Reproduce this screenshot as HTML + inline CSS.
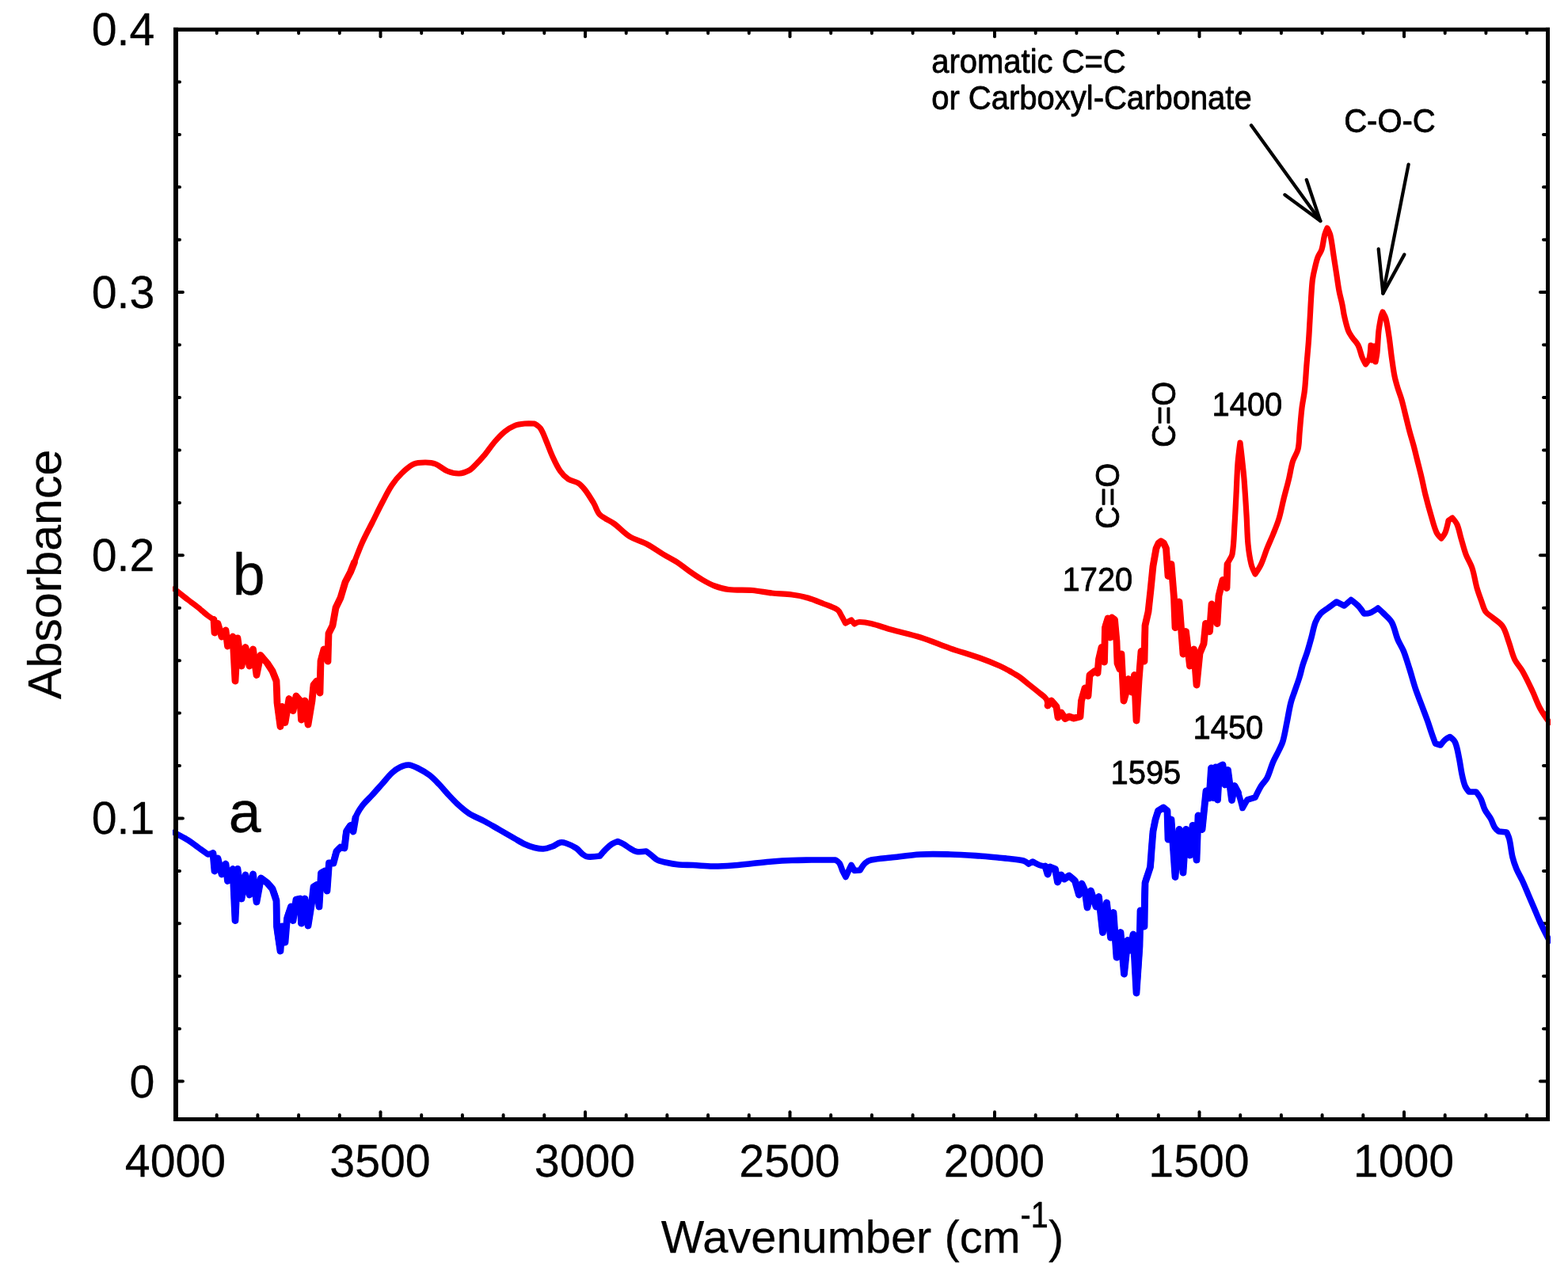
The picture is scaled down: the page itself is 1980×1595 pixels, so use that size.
<!DOCTYPE html>
<html lang="en"><head><meta charset="utf-8"><title>FTIR absorbance spectra</title>
<style>html,body{margin:0;padding:0;background:#fff;}body{width:1980px;height:1595px;}svg{display:block;}text{font-family:'Liberation Sans', Arial, Helvetica, sans-serif;fill:#000;stroke:#000;stroke-linejoin:round;}</style>
</head><body>
<svg width="1980" height="1595" viewBox="0 0 1980 1595" role="img" aria-label="FTIR absorbance spectra of samples a and b">
<rect x="0" y="0" width="1980" height="1595" fill="#fff"/>
<defs><clipPath id="plotclip"><rect x="218" y="36" width="1740" height="1378"/></clipPath></defs>
<g stroke="#000" stroke-linecap="round" stroke-width="4.0"><line x1="273.7" y1="1412.0" x2="273.7" y2="1408.0"/><line x1="273.7" y1="38.0" x2="273.7" y2="42.0"/><line x1="325.4" y1="1412.0" x2="325.4" y2="1408.0"/><line x1="325.4" y1="38.0" x2="325.4" y2="42.0"/><line x1="377.1" y1="1412.0" x2="377.1" y2="1408.0"/><line x1="377.1" y1="38.0" x2="377.1" y2="42.0"/><line x1="428.8" y1="1412.0" x2="428.8" y2="1408.0"/><line x1="428.8" y1="38.0" x2="428.8" y2="42.0"/><line x1="480.5" y1="1412.0" x2="480.5" y2="1404.2"/><line x1="480.5" y1="38.0" x2="480.5" y2="46.2"/><line x1="532.2" y1="1412.0" x2="532.2" y2="1408.0"/><line x1="532.2" y1="38.0" x2="532.2" y2="42.0"/><line x1="583.9" y1="1412.0" x2="583.9" y2="1408.0"/><line x1="583.9" y1="38.0" x2="583.9" y2="42.0"/><line x1="635.6" y1="1412.0" x2="635.6" y2="1408.0"/><line x1="635.6" y1="38.0" x2="635.6" y2="42.0"/><line x1="687.3" y1="1412.0" x2="687.3" y2="1408.0"/><line x1="687.3" y1="38.0" x2="687.3" y2="42.0"/><line x1="739.0" y1="1412.0" x2="739.0" y2="1404.2"/><line x1="739.0" y1="38.0" x2="739.0" y2="46.2"/><line x1="790.7" y1="1412.0" x2="790.7" y2="1408.0"/><line x1="790.7" y1="38.0" x2="790.7" y2="42.0"/><line x1="842.4" y1="1412.0" x2="842.4" y2="1408.0"/><line x1="842.4" y1="38.0" x2="842.4" y2="42.0"/><line x1="894.1" y1="1412.0" x2="894.1" y2="1408.0"/><line x1="894.1" y1="38.0" x2="894.1" y2="42.0"/><line x1="945.8" y1="1412.0" x2="945.8" y2="1408.0"/><line x1="945.8" y1="38.0" x2="945.8" y2="42.0"/><line x1="997.5" y1="1412.0" x2="997.5" y2="1404.2"/><line x1="997.5" y1="38.0" x2="997.5" y2="46.2"/><line x1="1049.2" y1="1412.0" x2="1049.2" y2="1408.0"/><line x1="1049.2" y1="38.0" x2="1049.2" y2="42.0"/><line x1="1100.9" y1="1412.0" x2="1100.9" y2="1408.0"/><line x1="1100.9" y1="38.0" x2="1100.9" y2="42.0"/><line x1="1152.6" y1="1412.0" x2="1152.6" y2="1408.0"/><line x1="1152.6" y1="38.0" x2="1152.6" y2="42.0"/><line x1="1204.3" y1="1412.0" x2="1204.3" y2="1408.0"/><line x1="1204.3" y1="38.0" x2="1204.3" y2="42.0"/><line x1="1256.0" y1="1412.0" x2="1256.0" y2="1404.2"/><line x1="1256.0" y1="38.0" x2="1256.0" y2="46.2"/><line x1="1307.7" y1="1412.0" x2="1307.7" y2="1408.0"/><line x1="1307.7" y1="38.0" x2="1307.7" y2="42.0"/><line x1="1359.4" y1="1412.0" x2="1359.4" y2="1408.0"/><line x1="1359.4" y1="38.0" x2="1359.4" y2="42.0"/><line x1="1411.1" y1="1412.0" x2="1411.1" y2="1408.0"/><line x1="1411.1" y1="38.0" x2="1411.1" y2="42.0"/><line x1="1462.8" y1="1412.0" x2="1462.8" y2="1408.0"/><line x1="1462.8" y1="38.0" x2="1462.8" y2="42.0"/><line x1="1514.5" y1="1412.0" x2="1514.5" y2="1404.2"/><line x1="1514.5" y1="38.0" x2="1514.5" y2="46.2"/><line x1="1566.2" y1="1412.0" x2="1566.2" y2="1408.0"/><line x1="1566.2" y1="38.0" x2="1566.2" y2="42.0"/><line x1="1617.9" y1="1412.0" x2="1617.9" y2="1408.0"/><line x1="1617.9" y1="38.0" x2="1617.9" y2="42.0"/><line x1="1669.6" y1="1412.0" x2="1669.6" y2="1408.0"/><line x1="1669.6" y1="38.0" x2="1669.6" y2="42.0"/><line x1="1721.3" y1="1412.0" x2="1721.3" y2="1408.0"/><line x1="1721.3" y1="38.0" x2="1721.3" y2="42.0"/><line x1="1773.0" y1="1412.0" x2="1773.0" y2="1404.2"/><line x1="1773.0" y1="38.0" x2="1773.0" y2="46.2"/><line x1="1824.7" y1="1412.0" x2="1824.7" y2="1408.0"/><line x1="1824.7" y1="38.0" x2="1824.7" y2="42.0"/><line x1="1876.4" y1="1412.0" x2="1876.4" y2="1408.0"/><line x1="1876.4" y1="38.0" x2="1876.4" y2="42.0"/><line x1="1928.1" y1="1412.0" x2="1928.1" y2="1408.0"/><line x1="1928.1" y1="38.0" x2="1928.1" y2="42.0"/><line x1="223.0" y1="103.4" x2="227.0" y2="103.4"/><line x1="1954.0" y1="103.4" x2="1949.0" y2="103.4"/><line x1="223.0" y1="169.9" x2="227.0" y2="169.9"/><line x1="1954.0" y1="169.9" x2="1949.0" y2="169.9"/><line x1="223.0" y1="236.3" x2="227.0" y2="236.3"/><line x1="1954.0" y1="236.3" x2="1949.0" y2="236.3"/><line x1="223.0" y1="302.7" x2="227.0" y2="302.7"/><line x1="1954.0" y1="302.7" x2="1949.0" y2="302.7"/><line x1="223.0" y1="369.1" x2="230.9" y2="369.1"/><line x1="1954.0" y1="369.1" x2="1944.9" y2="369.1"/><line x1="223.0" y1="435.6" x2="227.0" y2="435.6"/><line x1="1954.0" y1="435.6" x2="1949.0" y2="435.6"/><line x1="223.0" y1="502.0" x2="227.0" y2="502.0"/><line x1="1954.0" y1="502.0" x2="1949.0" y2="502.0"/><line x1="223.0" y1="568.4" x2="227.0" y2="568.4"/><line x1="1954.0" y1="568.4" x2="1949.0" y2="568.4"/><line x1="223.0" y1="634.9" x2="227.0" y2="634.9"/><line x1="1954.0" y1="634.9" x2="1949.0" y2="634.9"/><line x1="223.0" y1="701.3" x2="230.9" y2="701.3"/><line x1="1954.0" y1="701.3" x2="1944.9" y2="701.3"/><line x1="223.0" y1="767.7" x2="227.0" y2="767.7"/><line x1="1954.0" y1="767.7" x2="1949.0" y2="767.7"/><line x1="223.0" y1="834.2" x2="227.0" y2="834.2"/><line x1="1954.0" y1="834.2" x2="1949.0" y2="834.2"/><line x1="223.0" y1="900.6" x2="227.0" y2="900.6"/><line x1="1954.0" y1="900.6" x2="1949.0" y2="900.6"/><line x1="223.0" y1="967.0" x2="227.0" y2="967.0"/><line x1="1954.0" y1="967.0" x2="1949.0" y2="967.0"/><line x1="223.0" y1="1033.4" x2="230.9" y2="1033.4"/><line x1="1954.0" y1="1033.4" x2="1944.9" y2="1033.4"/><line x1="223.0" y1="1099.9" x2="227.0" y2="1099.9"/><line x1="1954.0" y1="1099.9" x2="1949.0" y2="1099.9"/><line x1="223.0" y1="1166.3" x2="227.0" y2="1166.3"/><line x1="1954.0" y1="1166.3" x2="1949.0" y2="1166.3"/><line x1="223.0" y1="1232.7" x2="227.0" y2="1232.7"/><line x1="1954.0" y1="1232.7" x2="1949.0" y2="1232.7"/><line x1="223.0" y1="1299.2" x2="227.0" y2="1299.2"/><line x1="1954.0" y1="1299.2" x2="1949.0" y2="1299.2"/><line x1="223.0" y1="1365.6" x2="230.9" y2="1365.6"/><line x1="1954.0" y1="1365.6" x2="1944.9" y2="1365.6"/></g>
<g clip-path="url(#plotclip)" fill="none" stroke-linejoin="round" stroke-linecap="round">
<polyline points="269.0,1077.5 271.0,1100.0 275.0,1084.0 280.0,1104.0 285.0,1091.0 287.5,1112.5 294.0,1097.5 297.0,1162.5 300.0,1097.5 305.0,1135.0 310.0,1105.0 315.0,1130.0 319.5,1104.0 324.0,1139.0 329.5,1109.0 337.5,1115.0 344.0,1122.5 349.0,1137.5 349.5,1170.0 354.0,1201.0 356.0,1170.0 360.0,1190.0 362.5,1160.0 367.5,1145.0 370.0,1162.5 374.0,1136.0 379.0,1135.0 380.5,1166.0 385.0,1135.0 389.0,1169.0 394.0,1137.5 396.0,1120.0 400.0,1117.5 403.0,1145.0 405.5,1102.5 410.0,1100.0 413.0,1125.0 415.5,1090.0 421.0,1090.0 425.0,1075.0 430.0,1070.0 435.0,1071.0 437.5,1050.0 442.5,1042.5 446.0,1050.0 449.0,1032.5" stroke="#0000ff" stroke-width="8.8"/>
<polyline points="1320.0,1094.0 1323.0,1104.0 1326.0,1095.0 1332.5,1097.5 1335.5,1114.0 1340.0,1105.0 1344.0,1110.0 1350.0,1106.0 1357.5,1112.5 1362.5,1130.0 1366.0,1116.0 1370.0,1125.0 1373.0,1146.0 1377.5,1125.0 1384.0,1145.0 1387.5,1132.5 1392.5,1177.5 1397.5,1140.0 1402.5,1184.0 1406.0,1152.5 1410.0,1209.0 1415.0,1177.5 1419.5,1230.0 1424.0,1187.5 1427.5,1200.0 1431.0,1180.0 1435.0,1254.0 1439.0,1195.0 1440.0,1150.0 1445.0,1170.0 1446.0,1115.0 1452.5,1095.0 1454.0,1075.0 1456.0,1050.0 1459.0,1035.0 1462.5,1024.0 1469.0,1020.0 1474.0,1024.0 1475.0,1060.0 1479.0,1035.0 1484.0,1107.5 1489.0,1047.5 1494.0,1102.0 1497.5,1047.5 1502.5,1080.0 1506.0,1042.5 1511.0,1086.0 1513.0,1030.0 1518.0,1047.5 1520.5,1023.0 1523.0,999.0 1527.0,1008.0 1529.5,970.0 1532.0,1007.5 1535.0,969.0 1537.5,1010.0 1540.0,968.0 1544.0,966.0 1547.0,991.0 1550.5,972.5 1555.5,1010.5 1559.0,992.5 1563.5,1001.0" stroke="#0000ff" stroke-width="8.8"/>
<path d="M220.0 1051.3C220.0 1051.3 221.3 1052.1 222.0 1052.5C227.2 1055.4 232.5 1057.9 237.5 1061.0C241.9 1063.7 245.8 1067.0 250.0 1070.0C254.2 1073.0 262.5 1079.0 262.5 1079.0L269.0 1077.5L271.0 1100.0L275.0 1084.0L280.0 1104.0L285.0 1091.0L287.5 1112.5L294.0 1097.5L297.0 1162.5L300.0 1097.5L305.0 1135.0L310.0 1105.0L315.0 1130.0L319.5 1104.0L324.0 1139.0L329.5 1109.0C329.5 1109.0 335.1 1112.7 337.5 1115.0C339.9 1117.3 342.5 1119.6 344.0 1122.5C346.4 1127.2 348.4 1132.3 349.0 1137.5C350.2 1148.3 348.6 1159.2 349.5 1170.0C350.3 1180.4 354.0 1201.0 354.0 1201.0L356.0 1170.0L360.0 1190.0C360.0 1190.0 360.9 1169.9 362.5 1160.0C363.4 1154.8 367.5 1145.0 367.5 1145.0L370.0 1162.5L374.0 1136.0L379.0 1135.0L380.5 1166.0L385.0 1135.0L389.0 1169.0C389.0 1169.0 392.5 1148.0 394.0 1137.5C394.8 1131.7 396.0 1120.0 396.0 1120.0L400.0 1117.5L403.0 1145.0L405.5 1102.5L410.0 1100.0L413.0 1125.0L415.5 1090.0L421.0 1090.0C421.0 1090.0 422.9 1079.7 425.0 1075.0C426.0 1072.9 430.0 1070.0 430.0 1070.0L435.0 1071.0C435.0 1071.0 435.7 1056.8 437.5 1050.0C438.3 1047.1 442.5 1042.5 442.5 1042.5L446.0 1050.0C446.0 1050.0 447.0 1038.1 449.0 1032.5C450.9 1027.1 454.1 1022.1 457.5 1017.5C461.1 1012.6 465.9 1008.5 470.0 1004.0C474.2 999.4 478.3 994.7 482.5 990.0C486.7 985.3 490.4 980.3 495.0 976.0C498.0 973.2 501.3 970.7 505.0 969.0C508.4 967.4 512.2 965.8 516.0 966.0C520.1 966.2 523.9 968.2 527.5 970.0C532.7 972.6 537.9 975.5 542.5 979.0C547.1 982.5 551.0 986.8 555.0 991.0C559.3 995.5 563.2 1000.4 567.5 1005.0C571.5 1009.3 575.6 1013.6 580.0 1017.5C584.0 1021.1 588.0 1024.7 592.5 1027.5C598.8 1031.4 605.9 1034.0 612.5 1037.5C618.4 1040.7 624.2 1044.2 630.0 1047.5C636.7 1051.3 643.3 1055.2 650.0 1059.0C654.2 1061.4 658.2 1064.0 662.5 1066.0C666.5 1067.9 670.7 1069.4 675.0 1070.5C678.6 1071.4 682.3 1072.2 686.0 1072.0C690.0 1071.7 693.8 1070.4 697.5 1069.0C701.0 1067.7 703.9 1064.8 707.5 1064.0C710.0 1063.4 712.6 1064.2 715.0 1065.0C719.4 1066.5 723.7 1068.4 727.5 1071.0C730.7 1073.2 732.9 1076.7 736.0 1079.0C737.9 1080.4 740.1 1081.8 742.5 1082.0C747.5 1082.5 757.5 1081.0 757.5 1081.0C757.5 1081.0 762.3 1075.2 765.0 1072.5C767.3 1070.2 769.7 1067.8 772.5 1066.0C774.8 1064.5 780.0 1062.5 780.0 1062.5C780.0 1062.5 785.1 1064.6 787.5 1066.0C790.1 1067.5 792.4 1069.5 795.0 1071.0C797.9 1072.7 800.7 1074.9 804.0 1075.5C807.9 1076.2 816.0 1075.0 816.0 1075.0C816.0 1075.0 820.4 1078.3 822.5 1080.0C825.0 1082.0 827.2 1084.5 830.0 1086.0C833.1 1087.6 836.6 1088.3 840.0 1089.0C845.8 1090.3 851.6 1091.4 857.5 1092.0C863.3 1092.6 869.2 1092.2 875.0 1092.5C883.3 1092.9 891.7 1093.9 900.0 1094.0C908.3 1094.1 916.7 1093.6 925.0 1093.0C933.4 1092.4 941.7 1091.3 950.0 1090.5C958.3 1089.7 966.7 1088.7 975.0 1088.0C983.3 1087.3 991.7 1086.8 1000.0 1086.5C1008.3 1086.2 1016.7 1086.1 1025.0 1086.0C1035.0 1085.9 1055.0 1086.0 1055.0 1086.0C1055.0 1086.0 1058.8 1088.2 1060.0 1090.0C1061.9 1093.0 1062.5 1096.7 1064.0 1100.0C1065.2 1102.6 1068.0 1107.5 1068.0 1107.5C1068.0 1107.5 1071.0 1100.8 1072.5 1097.5C1073.3 1095.8 1075.0 1092.5 1075.0 1092.5L1079.0 1099.5L1086.0 1099.0C1086.0 1099.0 1089.8 1092.5 1092.5 1090.0C1094.6 1088.1 1097.2 1086.6 1100.0 1086.0C1108.2 1084.2 1116.7 1083.9 1125.0 1083.0C1137.5 1081.6 1149.9 1079.7 1162.5 1079.0C1175.0 1078.3 1187.5 1078.7 1200.0 1079.0C1212.5 1079.3 1225.0 1080.2 1237.5 1081.0C1245.0 1081.5 1252.5 1082.3 1260.0 1083.0C1265.0 1083.5 1270.0 1083.9 1275.0 1084.5C1280.8 1085.2 1286.8 1085.5 1292.5 1087.0C1295.0 1087.7 1299.0 1091.0 1299.0 1091.0L1304.0 1088.0C1304.0 1088.0 1309.5 1091.4 1312.5 1092.5C1314.9 1093.4 1320.0 1094.0 1320.0 1094.0L1323.0 1104.0L1326.0 1095.0L1332.5 1097.5L1335.5 1114.0L1340.0 1105.0L1344.0 1110.0L1350.0 1106.0C1350.0 1106.0 1356.0 1109.6 1357.5 1112.5C1360.3 1117.9 1362.5 1130.0 1362.5 1130.0L1366.0 1116.0C1366.0 1116.0 1369.3 1121.8 1370.0 1125.0C1371.6 1131.9 1373.0 1146.0 1373.0 1146.0L1377.5 1125.0L1384.0 1145.0L1387.5 1132.5L1392.5 1177.5L1397.5 1140.0L1402.5 1184.0L1406.0 1152.5L1410.0 1209.0L1415.0 1177.5L1419.5 1230.0L1424.0 1187.5L1427.5 1200.0L1431.0 1180.0L1435.0 1254.0C1435.0 1254.0 1438.1 1214.7 1439.0 1195.0C1439.7 1180.0 1440.0 1150.0 1440.0 1150.0L1445.0 1170.0C1445.0 1170.0 1444.2 1133.2 1446.0 1115.0C1446.7 1108.0 1451.1 1101.9 1452.5 1095.0C1453.8 1088.4 1453.5 1081.7 1454.0 1075.0C1454.6 1066.7 1455.0 1058.3 1456.0 1050.0C1456.6 1044.9 1457.8 1039.9 1459.0 1035.0C1459.9 1031.3 1462.5 1024.0 1462.5 1024.0L1469.0 1020.0L1474.0 1024.0L1475.0 1060.0L1479.0 1035.0L1484.0 1107.5L1489.0 1047.5L1494.0 1102.0L1497.5 1047.5L1502.5 1080.0L1506.0 1042.5L1511.0 1086.0L1513.0 1030.0L1518.0 1047.5C1518.0 1047.5 1519.7 1031.2 1520.5 1023.0C1521.3 1015.0 1523.0 999.0 1523.0 999.0L1527.0 1008.0L1529.5 970.0L1532.0 1007.5L1535.0 969.0L1537.5 1010.0L1540.0 968.0L1544.0 966.0L1547.0 991.0L1550.5 972.5L1555.5 1010.5L1559.0 992.5C1559.0 992.5 1562.4 998.0 1563.5 1001.0C1565.8 1007.4 1569.0 1020.5 1569.0 1020.5L1575.0 1010.0L1585.0 1007.0C1585.0 1007.0 1589.7 997.1 1592.5 992.5C1594.7 988.9 1598.1 986.2 1600.0 982.5C1603.2 976.1 1604.7 969.0 1607.5 962.5C1609.7 957.4 1612.6 952.6 1615.0 947.5C1616.8 943.7 1618.9 940.0 1620.0 936.0C1622.2 928.3 1623.4 920.3 1625.0 912.5C1626.7 904.2 1627.9 895.7 1630.0 887.5C1631.3 882.4 1633.3 877.5 1635.0 872.5C1637.0 866.7 1639.2 860.9 1641.0 855.0C1642.5 850.1 1643.5 844.9 1645.0 840.0C1646.8 834.1 1649.2 828.4 1651.0 822.5C1652.8 816.7 1654.4 810.9 1656.0 805.0C1657.7 798.7 1658.7 792.1 1661.0 786.0C1662.5 782.0 1664.7 778.2 1667.5 775.0C1670.3 771.9 1674.2 770.0 1677.5 767.5C1680.8 765.0 1687.5 760.0 1687.5 760.0L1697.5 765.0L1706.0 757.5C1706.0 757.5 1712.3 762.2 1715.0 765.0C1717.9 768.0 1722.5 775.0 1722.5 775.0C1722.5 775.0 1727.7 774.9 1730.0 774.0C1733.6 772.6 1740.0 768.0 1740.0 768.0C1740.0 768.0 1745.1 772.5 1747.5 775.0C1751.0 778.6 1755.2 781.6 1757.5 786.0C1761.1 792.7 1762.1 800.5 1765.0 807.5C1767.1 812.7 1770.4 817.3 1772.5 822.5C1775.4 829.8 1777.6 837.5 1780.0 845.0C1782.6 853.3 1784.7 861.7 1787.5 870.0C1789.8 876.8 1792.5 883.3 1795.0 890.0C1797.5 896.7 1800.1 903.3 1802.5 910.0C1804.3 915.0 1805.8 920.0 1807.5 925.0C1809.1 929.7 1812.5 939.0 1812.5 939.0L1819.0 941.0C1819.0 941.0 1822.7 936.0 1825.0 934.0C1826.7 932.5 1831.0 930.5 1831.0 930.5C1831.0 930.5 1836.3 934.6 1837.5 937.5C1840.2 943.8 1841.1 950.8 1842.5 957.5C1843.9 964.1 1844.6 970.9 1846.0 977.5C1847.1 982.6 1848.1 987.7 1850.0 992.5C1851.1 995.3 1855.0 1000.0 1855.0 1000.0L1864.0 1000.0C1864.0 1000.0 1868.4 1005.8 1870.0 1009.0C1872.1 1013.3 1872.9 1018.2 1875.0 1022.5C1877.0 1026.6 1880.3 1030.0 1882.5 1034.0C1884.5 1037.5 1885.4 1041.6 1887.5 1045.0C1888.7 1047.0 1892.5 1050.0 1892.5 1050.0L1902.5 1051.0C1902.5 1051.0 1905.3 1056.9 1906.0 1060.0C1907.8 1067.4 1908.2 1075.1 1910.0 1082.5C1911.2 1087.6 1913.0 1092.6 1915.0 1097.5C1917.2 1102.7 1920.2 1107.4 1922.5 1112.5C1925.2 1118.3 1927.5 1124.2 1930.0 1130.0C1932.5 1135.8 1935.0 1141.7 1937.5 1147.5C1940.0 1153.3 1942.3 1159.3 1945.0 1165.0C1948.6 1172.8 1956.5 1188.0 1956.5 1188.0" stroke="#0000ff" stroke-width="7.6"/>
<polyline points="270.0,782.5 271.0,799.0 275.0,787.5 280.0,804.0 285.0,796.0 287.5,816.0 294.0,804.0 297.0,860.0 300.0,806.0 305.0,841.0 310.0,817.5 315.0,841.0 319.5,820.0 324.0,852.5 329.0,827.5 337.5,837.5 344.0,847.5 349.0,860.0 350.0,887.5 354.0,917.5 356.0,892.5 360.0,912.5 365.0,882.5 370.0,897.5 374.0,879.0 379.0,885.0 380.5,909.0 385.0,885.0 389.0,915.0 394.0,885.0 396.0,865.0 400.0,860.0 404.0,875.0 405.0,835.0 409.0,820.0 414.0,835.0 415.0,800.0 420.0,790.0 424.0,767.5 430.0,755.0 436.0,735.0 442.5,722.5 447.5,710.0" stroke="#ff0000" stroke-width="8.8"/>
<polyline points="1323.0,891.0 1327.5,885.0 1334.0,892.5 1336.0,906.0 1340.0,900.0 1345.0,907.5 1350.0,905.0 1356.0,907.0 1364.0,905.0 1365.5,885.0 1370.0,869.0 1374.0,879.0 1376.0,852.5 1382.5,847.5 1386.0,850.0 1387.5,832.5 1391.0,817.5 1394.5,836.0 1395.5,792.5 1399.0,781.0 1402.0,805.0 1404.0,780.0 1407.5,782.5 1410.0,810.0 1411.0,837.5 1414.0,845.0 1416.0,826.0 1419.0,885.0 1422.5,872.5 1425.0,857.5 1429.0,874.0 1432.5,852.5 1435.0,910.0 1438.0,860.0 1441.0,822.5 1445.0,835.0 1446.0,790.0 1450.0,772.5 1453.0,745.0 1456.0,715.0 1460.0,692.5 1463.0,686.0 1466.0,683.8 1469.5,686.0 1472.5,692.5 1475.0,727.5 1479.0,712.5 1482.5,755.0 1484.0,792.5 1489.0,760.0 1494.0,826.0 1497.5,797.5 1502.5,841.0 1507.5,820.0 1511.0,865.0 1515.0,825.0 1520.0,813.0 1522.5,787.5 1527.5,797.5 1530.0,763.0 1537.0,787.5 1539.0,752.5 1544.0,732.5 1549.0,742.5 1550.0,712.5" stroke="#ff0000" stroke-width="8.8"/>
<path d="M220.0 743.8C220.0 743.8 221.3 744.8 222.0 745.3C227.2 749.4 232.3 753.5 237.5 757.5C241.6 760.7 245.9 763.7 250.0 767.0C254.2 770.4 258.2 774.2 262.5 777.5C264.9 779.3 270.0 782.5 270.0 782.5L271.0 799.0L275.0 787.5L280.0 804.0L285.0 796.0L287.5 816.0L294.0 804.0L297.0 860.0L300.0 806.0L305.0 841.0L310.0 817.5L315.0 841.0L319.5 820.0L324.0 852.5L329.0 827.5C329.0 827.5 334.9 834.0 337.5 837.5C339.9 840.7 342.2 844.0 344.0 847.5C346.0 851.5 348.3 855.6 349.0 860.0C350.4 869.1 349.2 878.4 350.0 887.5C350.9 897.6 354.0 917.5 354.0 917.5L356.0 892.5L360.0 912.5L365.0 882.5L370.0 897.5L374.0 879.0C374.0 879.0 378.4 882.5 379.0 885.0C380.7 892.8 380.5 909.0 380.5 909.0L385.0 885.0L389.0 915.0C389.0 915.0 392.6 895.0 394.0 885.0C394.9 878.4 394.4 871.5 396.0 865.0C396.5 862.9 400.0 860.0 400.0 860.0L404.0 875.0C404.0 875.0 403.8 848.3 405.0 835.0C405.5 829.8 409.0 820.0 409.0 820.0L414.0 835.0C414.0 835.0 413.5 811.6 415.0 800.0C415.5 796.3 419.0 793.6 420.0 790.0C422.0 782.7 421.9 774.8 424.0 767.5C425.3 763.1 428.4 759.3 430.0 755.0C432.4 748.5 433.5 741.5 436.0 735.0C437.7 730.6 440.5 726.8 442.5 722.5C444.4 718.4 445.8 714.2 447.5 710.0C450.8 701.7 453.8 693.2 457.5 685.0C461.3 676.5 465.8 668.3 470.0 660.0C474.2 651.7 478.2 643.2 482.5 635.0C486.5 627.4 490.2 619.6 495.0 612.5C498.6 607.1 502.8 602.0 507.5 597.5C512.0 593.1 516.8 588.6 522.5 586.0C527.1 583.9 532.5 584.0 537.5 584.0C541.7 584.0 546.1 584.4 550.0 586.0C555.4 588.2 559.6 592.8 565.0 595.0C569.7 596.9 574.9 598.2 580.0 598.0C584.4 597.8 588.6 596.0 592.5 594.0C595.4 592.5 597.7 589.9 600.0 587.5C604.4 583.1 608.5 578.5 612.5 573.8C616.9 568.5 620.5 562.7 625.0 557.5C628.9 553.1 632.9 548.7 637.5 545.0C641.3 542.0 645.5 539.3 650.0 537.5C653.9 535.9 658.3 535.4 662.5 535.0C666.6 534.6 675.0 535.0 675.0 535.0C675.0 535.0 680.7 538.3 682.5 541.0C685.9 546.0 687.6 551.9 690.0 557.5C692.6 563.6 694.7 570.0 697.5 576.0C700.5 582.5 703.4 589.1 707.5 595.0C710.2 598.9 713.6 602.4 717.5 605.0C721.2 607.5 726.2 607.6 730.0 610.0C733.6 612.3 736.4 615.6 739.0 619.0C743.1 624.3 746.5 630.2 750.0 636.0C752.7 640.5 753.8 646.3 757.5 650.0C762.4 654.9 769.4 656.9 775.0 661.0C782.0 666.1 787.7 672.9 795.0 677.5C802.0 681.8 810.2 683.7 817.5 687.5C824.4 691.2 830.8 696.0 837.5 700.0C843.3 703.5 849.4 706.4 855.0 710.0C860.2 713.4 864.9 717.5 870.0 721.0C875.7 725.0 881.5 729.0 887.5 732.5C892.3 735.3 897.3 738.1 902.5 740.0C908.2 742.1 914.0 743.8 920.0 744.5C929.9 745.7 940.0 744.7 950.0 745.5C958.4 746.2 966.6 748.1 975.0 749.0C983.3 749.9 991.7 749.9 1000.0 751.0C1006.7 751.9 1013.5 753.1 1020.0 755.0C1026.8 757.0 1033.4 759.9 1040.0 762.5C1045.9 764.9 1052.2 766.5 1057.5 770.0C1060.0 771.7 1061.0 774.9 1062.5 777.5C1064.3 780.6 1067.5 787.0 1067.5 787.0L1075.0 783.0L1079.0 788.0C1079.0 788.0 1082.8 785.6 1085.0 785.5C1090.0 785.4 1095.1 786.3 1100.0 787.5C1108.5 789.5 1116.6 792.7 1125.0 795.0C1137.5 798.5 1150.2 801.1 1162.5 805.0C1175.2 809.0 1187.4 814.4 1200.0 818.8C1212.4 823.1 1225.1 826.6 1237.5 831.0C1246.0 834.0 1254.3 837.4 1262.5 841.0C1266.8 842.9 1270.9 845.2 1275.0 847.5C1279.2 849.9 1283.5 852.2 1287.5 855.0C1291.9 858.1 1295.8 861.7 1300.0 865.0C1304.2 868.3 1308.4 871.6 1312.5 875.0C1315.4 877.4 1318.9 879.3 1321.0 882.5C1322.6 884.9 1323.0 891.0 1323.0 891.0L1327.5 885.0C1327.5 885.0 1332.8 889.4 1334.0 892.5C1335.7 896.7 1336.0 906.0 1336.0 906.0L1340.0 900.0L1345.0 907.5L1350.0 905.0C1350.0 905.0 1353.9 907.0 1356.0 907.0C1358.7 907.0 1364.0 905.0 1364.0 905.0C1364.0 905.0 1364.4 891.6 1365.5 885.0C1366.4 879.5 1370.0 869.0 1370.0 869.0L1374.0 879.0L1376.0 852.5L1382.5 847.5L1386.0 850.0C1386.0 850.0 1386.6 838.3 1387.5 832.5C1388.3 827.4 1391.0 817.5 1391.0 817.5L1394.5 836.0C1394.5 836.0 1394.3 807.0 1395.5 792.5C1395.8 788.5 1399.0 781.0 1399.0 781.0L1402.0 805.0L1404.0 780.0L1407.5 782.5C1407.5 782.5 1409.4 800.8 1410.0 810.0C1410.6 819.2 1410.0 828.4 1411.0 837.5C1411.3 840.2 1414.0 845.0 1414.0 845.0L1416.0 826.0L1419.0 885.0C1419.0 885.0 1421.6 876.7 1422.5 872.5C1423.6 867.5 1425.0 857.5 1425.0 857.5L1429.0 874.0L1432.5 852.5L1435.0 910.0C1435.0 910.0 1436.9 876.7 1438.0 860.0C1438.9 847.5 1441.0 822.5 1441.0 822.5L1445.0 835.0C1445.0 835.0 1444.8 805.0 1446.0 790.0C1446.5 784.0 1449.1 778.4 1450.0 772.5C1451.4 763.4 1452.0 754.2 1453.0 745.0C1454.0 735.0 1454.7 725.0 1456.0 715.0C1457.0 707.4 1458.2 699.9 1460.0 692.5C1460.6 690.2 1461.6 688.0 1463.0 686.0C1463.7 685.0 1466.0 683.8 1466.0 683.8C1466.0 683.8 1468.7 684.9 1469.5 686.0C1470.9 687.9 1472.2 690.1 1472.5 692.5C1474.0 704.1 1475.0 727.5 1475.0 727.5L1479.0 712.5C1479.0 712.5 1481.6 740.8 1482.5 755.0C1483.3 767.5 1484.0 792.5 1484.0 792.5L1489.0 760.0L1494.0 826.0L1497.5 797.5L1502.5 841.0L1507.5 820.0L1511.0 865.0C1511.0 865.0 1512.7 838.2 1515.0 825.0C1515.7 820.7 1519.2 817.2 1520.0 813.0C1521.7 804.6 1522.5 787.5 1522.5 787.5L1527.5 797.5L1530.0 763.0L1537.0 787.5C1537.0 787.5 1537.5 764.1 1539.0 752.5C1539.9 745.7 1544.0 732.5 1544.0 732.5L1549.0 742.5C1549.0 742.5 1548.4 722.4 1550.0 712.5C1550.8 707.9 1555.2 704.5 1556.0 700.0C1558.2 687.7 1558.2 675.0 1559.0 662.5C1559.8 650.0 1560.4 637.5 1561.0 625.0C1561.7 611.7 1562.0 598.3 1563.0 585.0C1563.7 576.3 1566.0 559.0 1566.0 559.0C1566.0 559.0 1568.1 576.3 1569.0 585.0C1569.7 591.7 1570.5 598.3 1571.0 605.0C1572.2 620.0 1573.1 635.0 1574.0 650.0C1574.8 662.5 1574.8 675.0 1576.0 687.5C1576.8 695.9 1578.0 704.3 1580.0 712.5C1581.0 716.9 1585.0 725.0 1585.0 725.0C1585.0 725.0 1590.5 716.9 1592.5 712.5C1595.5 706.0 1597.4 699.1 1600.0 692.5C1602.4 686.6 1605.1 680.9 1607.5 675.0C1610.1 668.4 1613.0 661.8 1615.0 655.0C1617.5 646.8 1618.9 638.3 1621.0 630.0C1623.1 621.6 1625.5 613.4 1627.5 605.0C1629.3 597.5 1630.2 589.8 1632.5 582.5C1634.1 577.3 1637.7 572.8 1639.0 567.5C1640.6 561.0 1640.4 554.2 1641.0 547.5C1642.0 536.7 1642.7 525.8 1644.0 515.0C1644.9 507.5 1646.7 500.0 1647.5 492.5C1648.7 481.7 1649.1 470.8 1650.0 460.0C1650.8 450.0 1651.8 440.0 1652.5 430.0C1653.1 421.7 1653.5 413.3 1654.0 405.0C1654.7 393.3 1655.2 381.7 1656.0 370.0C1656.4 364.2 1656.7 358.3 1657.5 352.5C1658.1 348.3 1659.0 344.1 1660.0 340.0C1661.2 335.0 1662.2 329.9 1664.0 325.0C1665.3 321.5 1667.9 318.6 1669.0 315.0C1670.8 309.3 1671.0 303.3 1672.5 297.5C1673.3 294.2 1676.0 288.0 1676.0 288.0C1676.0 288.0 1679.2 294.2 1680.0 297.5C1681.9 305.7 1682.7 314.2 1684.0 322.5C1685.2 330.0 1686.3 337.5 1687.5 345.0C1688.7 352.5 1689.6 360.0 1691.0 367.5C1692.1 373.4 1693.8 379.1 1695.0 385.0C1696.0 389.6 1696.4 394.4 1697.5 399.0C1698.9 405.2 1700.3 411.5 1702.5 417.5C1703.6 420.6 1705.7 423.3 1707.5 426.0C1709.8 429.5 1713.1 432.3 1715.0 436.0C1717.4 440.7 1718.1 446.1 1720.0 451.0C1721.2 454.1 1724.5 460.0 1724.5 460.0C1724.5 460.0 1728.2 455.3 1729.0 452.5C1730.4 447.2 1731.0 436.0 1731.0 436.0L1733.0 455.0L1735.0 437.0L1737.0 457.0C1737.0 457.0 1738.6 449.0 1739.0 445.0C1739.9 435.9 1740.0 426.6 1741.0 417.5C1741.7 411.6 1742.8 405.8 1744.0 400.0C1744.4 397.9 1746.0 394.0 1746.0 394.0C1746.0 394.0 1749.2 399.5 1750.0 402.5C1751.9 409.9 1752.9 417.5 1754.0 425.0C1755.4 434.1 1756.2 443.3 1757.5 452.5C1758.6 460.0 1759.5 467.6 1761.0 475.0C1762.0 480.1 1763.5 485.0 1765.0 490.0C1766.5 495.0 1768.6 499.9 1770.0 505.0C1771.9 511.6 1773.3 518.3 1775.0 525.0C1776.7 531.7 1778.2 538.4 1780.0 545.0C1781.6 550.9 1783.4 556.6 1785.0 562.5C1786.8 569.1 1788.3 575.8 1790.0 582.5C1791.7 589.2 1793.4 595.8 1795.0 602.5C1796.8 610.0 1798.1 617.5 1800.0 625.0C1802.3 634.2 1804.8 643.4 1807.5 652.5C1809.5 659.2 1811.1 666.1 1814.0 672.5C1815.3 675.4 1820.0 680.0 1820.0 680.0C1820.0 680.0 1823.9 675.3 1825.0 672.5C1826.9 667.7 1829.0 657.5 1829.0 657.5L1834.0 654.0C1834.0 654.0 1838.6 659.3 1840.0 662.5C1842.4 668.1 1843.3 674.2 1845.0 680.0C1847.0 686.7 1848.6 693.5 1851.0 700.0C1853.2 706.0 1857.0 711.4 1859.0 717.5C1861.7 725.6 1862.7 734.3 1865.0 742.5C1866.7 748.4 1868.9 754.2 1871.0 760.0C1872.5 764.2 1873.4 768.8 1876.0 772.5C1878.2 775.7 1882.0 777.5 1885.0 780.0C1889.2 783.6 1894.4 786.4 1897.5 791.0C1901.3 796.7 1902.7 803.6 1905.0 810.0C1907.7 817.4 1909.2 825.3 1912.5 832.5C1915.0 837.9 1919.6 842.3 1922.5 847.5C1927.1 855.6 1931.0 864.1 1935.0 872.5C1938.5 879.9 1941.1 887.8 1945.0 895.0C1948.3 901.1 1956.5 912.5 1956.5 912.5" stroke="#ff0000" stroke-width="7.2"/>
</g>
<g fill="#000"><rect x="219" y="34.8" width="6" height="1381.2"/><rect x="1952" y="34.8" width="5" height="1381.2"/><rect x="219" y="34.8" width="1738" height="5"/><rect x="219" y="1411" width="1738" height="5"/></g>
<text transform="translate(221.5,1485.9) scale(1.000,1.010)" font-size="57.3" stroke-width="0.25" text-anchor="middle">4000</text>
<text transform="translate(480.0,1485.9) scale(1.000,1.010)" font-size="57.3" stroke-width="0.25" text-anchor="middle">3500</text>
<text transform="translate(738.5,1485.9) scale(1.000,1.010)" font-size="57.3" stroke-width="0.25" text-anchor="middle">3000</text>
<text transform="translate(997.0,1485.9) scale(1.000,1.010)" font-size="57.3" stroke-width="0.25" text-anchor="middle">2500</text>
<text transform="translate(1255.5,1485.9) scale(1.000,1.010)" font-size="57.3" stroke-width="0.25" text-anchor="middle">2000</text>
<text transform="translate(1514.0,1485.9) scale(1.000,1.010)" font-size="57.3" stroke-width="0.25" text-anchor="middle">1500</text>
<text transform="translate(1772.5,1485.9) scale(1.000,1.010)" font-size="57.3" stroke-width="0.25" text-anchor="middle">1000</text>
<text transform="translate(195.3,56.9) scale(1.000,1.010)" font-size="57.3" stroke-width="0.25" text-anchor="end">0.4</text>
<text transform="translate(195.3,389.1) scale(1.000,1.010)" font-size="57.3" stroke-width="0.25" text-anchor="end">0.3</text>
<text transform="translate(195.3,721.2) scale(1.000,1.010)" font-size="57.3" stroke-width="0.25" text-anchor="end">0.2</text>
<text transform="translate(195.3,1053.4) scale(1.000,1.010)" font-size="57.3" stroke-width="0.25" text-anchor="end">0.1</text>
<text transform="translate(195.3,1385.5) scale(1.000,1.010)" font-size="57.3" stroke-width="0.25" text-anchor="end">0</text>
<text x="834.8" y="1581.8" font-size="57.8" stroke-width="0.25">Wavenumber (cm<tspan x="1288.6" y="1550" font-size="45.5" stroke-width="0.5" textLength="35.2" lengthAdjust="spacingAndGlyphs">-1</tspan><tspan x="1324" y="1581.8">)</tspan></text>
<text transform="translate(76.8,883.0) rotate(-90)" font-size="59.1" stroke-width="0.25">Absorbance</text>
<text transform="translate(288.8,1050.6)" font-size="73.5" stroke-width="0.30">a</text>
<text transform="translate(293.8,750.8)" font-size="73.5" stroke-width="0.30">b</text>
<text transform="translate(1176.2,92.4) scale(1.000,1.050)" font-size="40.0" stroke-width="0.75">aromatic C=C</text>
<text transform="translate(1176.2,137.8) scale(1.000,1.050)" font-size="40.0" stroke-width="0.75">or Carboxyl-Carbonate</text>
<text transform="translate(1697.2,166.8) scale(1.000,1.050)" font-size="40.0" stroke-width="0.75">C-O-C</text>
<text transform="translate(1341.4,746.0) scale(1.000,1.050)" font-size="40.0" stroke-width="0.75">1720</text>
<text transform="translate(1530.4,524.8) scale(1.000,1.050)" font-size="40.0" stroke-width="0.75">1400</text>
<text transform="translate(1506.4,933.4) scale(1.000,1.050)" font-size="40.0" stroke-width="0.75">1450</text>
<text transform="translate(1402.4,990.0) scale(1.000,1.050)" font-size="40.0" stroke-width="0.75">1595</text>
<text transform="translate(1412.9,668.0) rotate(-90) scale(1.000,1.070)" font-size="40.0" stroke-width="0.75">C=O</text>
<text transform="translate(1483.6,565.0) rotate(-90) scale(1.000,1.070)" font-size="40.0" stroke-width="0.75">C=O</text>
<g stroke="#000" stroke-width="4.3" fill="none" stroke-linecap="round" stroke-linejoin="round">
<line x1="1580" y1="158.3" x2="1667.3" y2="279.1"/>
<polyline points="1622.4,246 1667.3,279.1 1649.8,227"/>
<line x1="1778.6" y1="207.6" x2="1746.4" y2="370.6"/>
<polyline points="1740.7,314.5 1746.4,370.6 1773.4,321.4"/>
</g>
</svg></body></html>
